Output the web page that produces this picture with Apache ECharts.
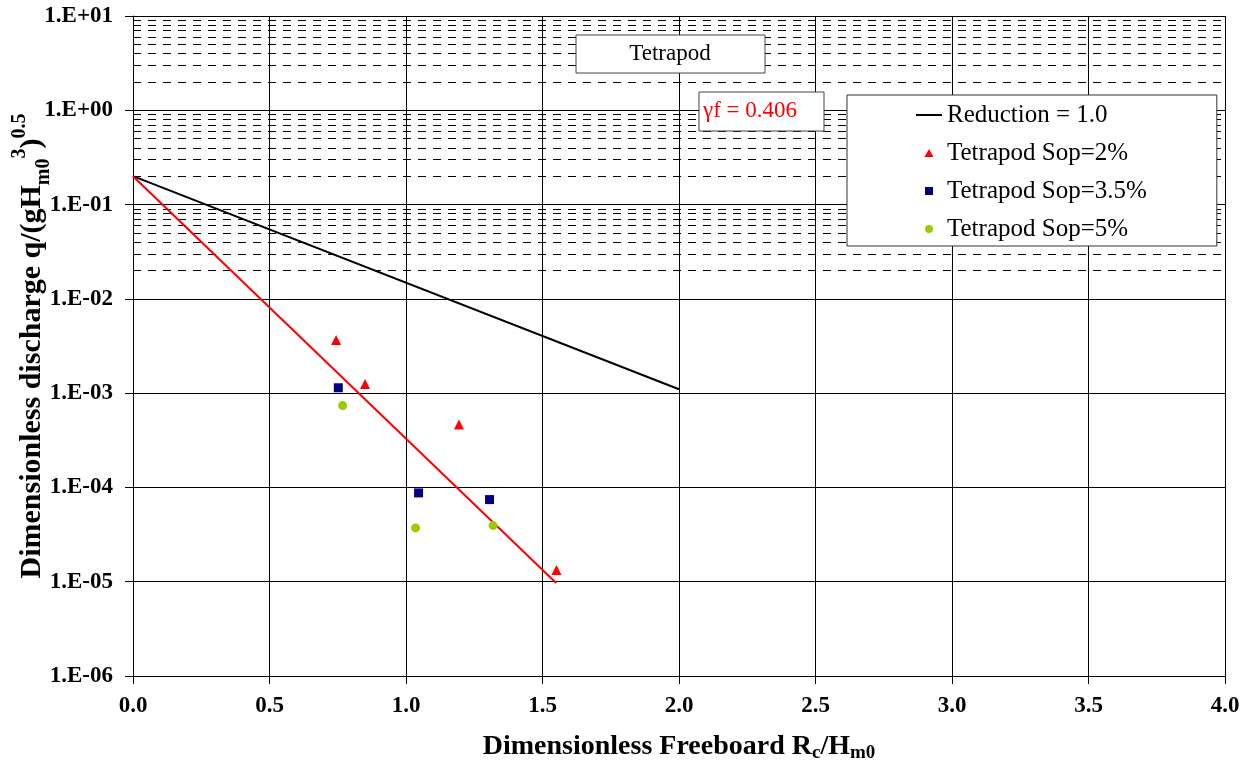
<!DOCTYPE html>
<html>
<head>
<meta charset="utf-8">
<script src="https://cdn.jsdelivr.net/npm/echarts@6/dist/echarts.min.js"></script>
<style>html,body{margin:0;padding:0;background:#fff;}#chart{width:1253px;height:767px;}</style>
</head>
<body>
<div id="chart"></div>
<script>
// ---- data ----
const xTickValues = [0, 0.5, 1.0, 1.5, 2.0, 2.5, 3.0, 3.5, 4.0];
const yTickLabels = ['1.E-06','1.E-05','1.E-04','1.E-03','1.E-02','1.E-01','1.E+00','1.E+01'];
const reductionLine = [[0, 0.2], [2.0, 0.0011]];
const fittedLine = [[0, 0.2], [1.55, 0.0000097]];
const sop2 = [[0.744, 3.67e-3], [0.850, 1.25e-3], [1.194, 4.66e-4], [1.551, 1.33e-5]];
const sop35 = [[0.752, 1.14e-3], [1.046, 8.75e-5], [1.306, 7.43e-5]];
const sop5 = [[0.768, 7.38e-4], [1.035, 3.72e-5], [1.319, 3.94e-5]];
const seriesNames = ['Reduction = 1.0', 'Tetrapod Sop=2%', 'Tetrapod Sop=3.5%', 'Tetrapod Sop=5%'];
const boxTitle = 'Tetrapod';
const gammaText = 'γf = 0.406';

// minor gridlines at 2..9 x 10^k
const minorGrid = [];
for (let e = -6; e <= 0; e++) {
  for (let m = 2; m <= 9; m++) minorGrid.push({ yAxis: m * Math.pow(10, e) });
}

const FONT = "'Liberation Serif', 'Times New Roman', serif";
const chart = echarts.init(document.getElementById('chart'));
chart.setOption({
  animation: false,
  backgroundColor: '#fff',
  grid: { left: 133, top: 16, right: 28, bottom: 91, containLabel: false, outerBoundsMode: 'none' },
  xAxis: {
    type: 'value', min: 0, max: 4, interval: 0.5,
    axisLine: { show: true, onZero: false, lineStyle: { color: '#000', width: 1 } },
    axisTick: { show: true, length: 8, lineStyle: { color: '#000' } },
    axisLabel: { margin: 19, fontFamily: FONT, fontWeight: 'bold', fontSize: 23, color: '#000',
      formatter: v => v.toFixed(1) },
    splitLine: { show: true, lineStyle: { color: '#000', width: 1 } },
    name: 'Dimensionless Freeboard R{sub|c}/H{sub|m0}',
    nameLocation: 'middle', nameGap: 55, nameMoveOverlap: false,
    nameTextStyle: { fontFamily: FONT, fontWeight: 'bold', fontSize: 28, color: '#000', lineHeight: 32,
      rich: { sub: { fontFamily: FONT, fontWeight: 'bold', fontSize: 19, color: '#000', verticalAlign: 'bottom', lineHeight: 28 } } }
  },
  yAxis: {
    type: 'log', logBase: 10, min: 1e-6, max: 10,
    axisLine: { show: true, lineStyle: { color: '#000', width: 1 } },
    axisTick: { show: true, length: 8, lineStyle: { color: '#000' } },
    axisLabel: { margin: 20, fontFamily: FONT, fontWeight: 'bold', fontSize: 23, color: '#000',
      formatter: v => { const e = Math.round(Math.log10(v)); return yTickLabels[e + 6] || ''; } },
    splitLine: { show: true, lineStyle: { color: '#000', width: 1 } },
    name: 'Dimensionless discharge q/(gH{sub|m0}{sup|3}){sup|0.5}',
    nameLocation: 'middle', nameGap: 79, nameRotate: 90, nameMoveOverlap: false,
    nameTextStyle: { fontFamily: FONT, fontWeight: 'bold', fontSize: 30, color: '#000', lineHeight: 44,
      rich: {
        sub: { fontFamily: FONT, fontWeight: 'bold', fontSize: 20, color: '#000', verticalAlign: 'bottom', lineHeight: 26 },
        sup: { fontFamily: FONT, fontWeight: 'bold', fontSize: 20, color: '#000', verticalAlign: 'top', lineHeight: 20 }
      } }
  },
  legend: {
    orient: 'vertical', left: 847, top: 95, z: 20,
    data: [
      { name: seriesNames[0], icon: 'path://M0,0 H26 V2 H0 Z' },
      { name: seriesNames[1], icon: 'path://M4,0 L8,7 L0,7 Z' },
      { name: seriesNames[2], icon: 'path://M0,0 H7 V7 H0 Z' },
      { name: seriesNames[3], icon: 'circle' }
    ],
    backgroundColor: '#fff', borderColor: '#333', borderWidth: 1,
    padding: [7, 70, 4, 69],
    itemWidth: 26, itemHeight: 8, itemGap: 12, symbolKeepAspect: true,
    textStyle: { fontFamily: FONT, fontSize: 25, color: '#000', lineHeight: 26 }
  },
  graphic: [
    { type: 'rect', shape: { x: 576, y: 35, width: 189, height: 38 },
      style: { fill: '#fff', stroke: '#444', lineWidth: 1 }, z: 100 },
    { type: 'text', x: 670, y: 54, z: 101,
      style: { text: boxTitle, font: "23px " + FONT, fill: '#000', align: 'center', verticalAlign: 'middle' } },
    { type: 'rect', shape: { x: 699, y: 92, width: 125, height: 39 },
      style: { fill: '#fff', stroke: '#444', lineWidth: 1 }, z: 100 },
    { type: 'text', x: 703, y: 111, z: 101,
      style: { text: gammaText, font: "23px " + FONT, fill: '#ff0000', align: 'left', verticalAlign: 'middle' } }
  ],
  series: [
    { name: 'minorGrid', type: 'line', data: [], silent: true, z: 1,
      markLine: { silent: true, z: 1, symbol: 'none', label: { show: false },
        lineStyle: { color: '#000', width: 1, type: [8, 7] }, data: minorGrid } },
    { name: seriesNames[0], type: 'line', data: reductionLine, showSymbol: false, symbol: 'none',
      lineStyle: { color: '#000', width: 2 }, itemStyle: { color: '#000' }, z: 5 },
    { name: 'fit', type: 'line', data: fittedLine, showSymbol: false, symbol: 'none',
      lineStyle: { color: '#ff0000', width: 2 }, itemStyle: { color: '#ff0000' }, z: 5 },
    { name: seriesNames[1], type: 'scatter', data: sop2, symbol: 'triangle', symbolSize: 10,
      itemStyle: { color: '#ff0000', opacity: 1 }, z: 6 },
    { name: seriesNames[2], type: 'scatter', data: sop35, symbol: 'rect', symbolSize: 9,
      itemStyle: { color: '#000080', opacity: 1 }, z: 6 },
    { name: seriesNames[3], type: 'scatter', data: sop5, symbol: 'circle', symbolSize: 9,
      itemStyle: { color: '#99cc00', opacity: 1 }, z: 6 }
  ]
});
</script>
</body>
</html>
